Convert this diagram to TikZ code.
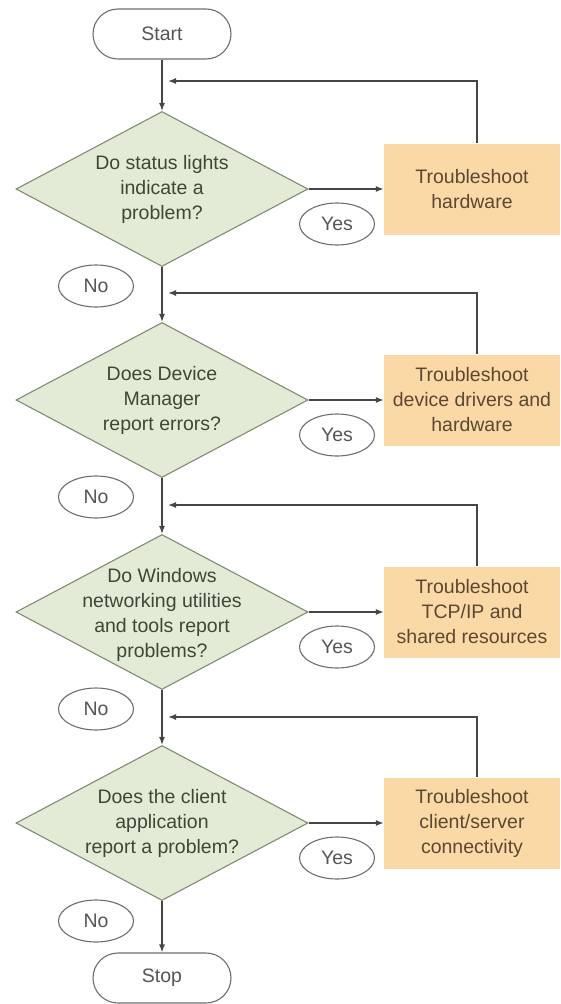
\documentclass[tikz,border=0pt]{standalone}
\usepackage{fontspec}
\setmainfont{Liberation Sans}
\usetikzlibrary{shapes.geometric,arrows.meta}

\definecolor{askfill}{RGB}{227,235,215}
\definecolor{askline}{RGB}{125,140,115}
\definecolor{asktext}{RGB}{60,72,55}
\definecolor{fixfill}{RGB}{251,217,166}
\definecolor{fixtext}{RGB}{90,72,50}
\definecolor{flow}{RGB}{70,70,70}
\definecolor{ovalline}{RGB}{110,110,110}
\definecolor{ovaltext}{RGB}{85,85,85}

\tikzset{
  every node/.style={font=\fontsize{19.5}{25}\selectfont, align=center},
  term/.style={draw=ovalline, line width=1.1pt, rounded corners=25pt,
    minimum width=138pt, minimum height=50pt, text=ovaltext, inner sep=0pt},
  ask/.style={diamond, draw=askline, line width=1.1pt, fill=askfill,
    minimum width=292pt, minimum height=155pt, inner sep=0pt},
  asktxt/.style={text=asktext, inner sep=0pt},
  fix/.style={fill=fixfill, minimum width=176pt, minimum height=91pt,
    text=fixtext, inner sep=0pt},
  ans/.style={ellipse, draw=ovalline, line width=1.1pt, minimum width=75pt,
    minimum height=42pt, text=ovaltext, inner sep=0pt},
  flowline/.style={draw=flow, line width=1.4pt, -{Latex[length=8pt,width=6pt]}}
}

\begin{document}
\begin{tikzpicture}[x=1pt, y=-1pt]

\useasboundingbox (0,0) rectangle (560,1004);

\node[term] (start) at (162,34) {Start};

%%%%%%%%%%%%%%%%%%%%%%%%%%%%%%%
\node[ask] (d1) at (162,189) {};
\node[asktxt] (q1) at (d1) {Do status lights\\indicate a\\problem?};
\node[fix] (f1) at (472,189) {Troubleshoot\\hardware};
\node[ans] (y1) at (337,224) {Yes};
\node[ans] (n1) at (96,286) {No};
\coordinate (m1) at (168,81);

%%%%%%%%%%%%%%%%%%%%%%%%%%%%%%%
\node[ask] (d2) at (162,400) {};
\node[asktxt] (q2) at (d2) {Does Device\\Manager\\report errors?};
\node[fix] (f2) at (472,400) {Troubleshoot\\device drivers and\\hardware};
\node[ans] (y2) at (337,435) {Yes};
\node[ans] (n2) at (96,497) {No};
\coordinate (m2) at (168,293);

%%%%%%%%%%%%%%%%%%%%%%%%%%%%%%%
\node[ask] (d3) at (162,612) {};
\node[asktxt] (q3) at ([yshift=-3pt]d3) {Do Windows\\networking utilities\\and tools report\\problems?};
\node[fix] (f3) at (472,612) {Troubleshoot\\TCP/IP and\\shared resources};
\node[ans] (y3) at (337,647) {Yes};
\node[ans] (n3) at (96,709) {No};
\coordinate (m3) at (168,505);

%%%%%%%%%%%%%%%%%%%%%%%%%%%%%%%
\node[ask] (d4) at (162,823) {};
\node[asktxt] (q4) at (d4) {Does the client\\application\\report a problem?};
\node[fix] (f4) at (472,823) {Troubleshoot\\client/server\\connectivity};
\node[ans] (y4) at (337,858) {Yes};
\node[ans] (n4) at (96,921) {No};
\coordinate (m4) at (168,717);

\node[term] (stop) at (162,978) {Stop};

%%%%%%%%%%%%%%%%%%%%%%%%%%%%%%%
\draw[flowline] (start) -- (d1);
\draw[flowline] (d1) -- (d2);
\draw[flowline] (d2) -- (d3);
\draw[flowline] (d3) -- (d4);
\draw[flowline] (d4) -- (stop);

\draw[flowline] (d1.east) -- (f1.west);
\draw[flowline] (d2.east) -- (f2.west);
\draw[flowline] (d3.east) -- (f3.west);
\draw[flowline] (d4.east) -- (f4.west);

\draw[flowline] ([xshift=5pt]f1.north) |- (m1);
\draw[flowline] ([xshift=5pt]f2.north) |- (m2);
\draw[flowline] ([xshift=5pt]f3.north) |- (m3);
\draw[flowline] ([xshift=5pt]f4.north) |- (m4);

\end{tikzpicture}
\end{document}
